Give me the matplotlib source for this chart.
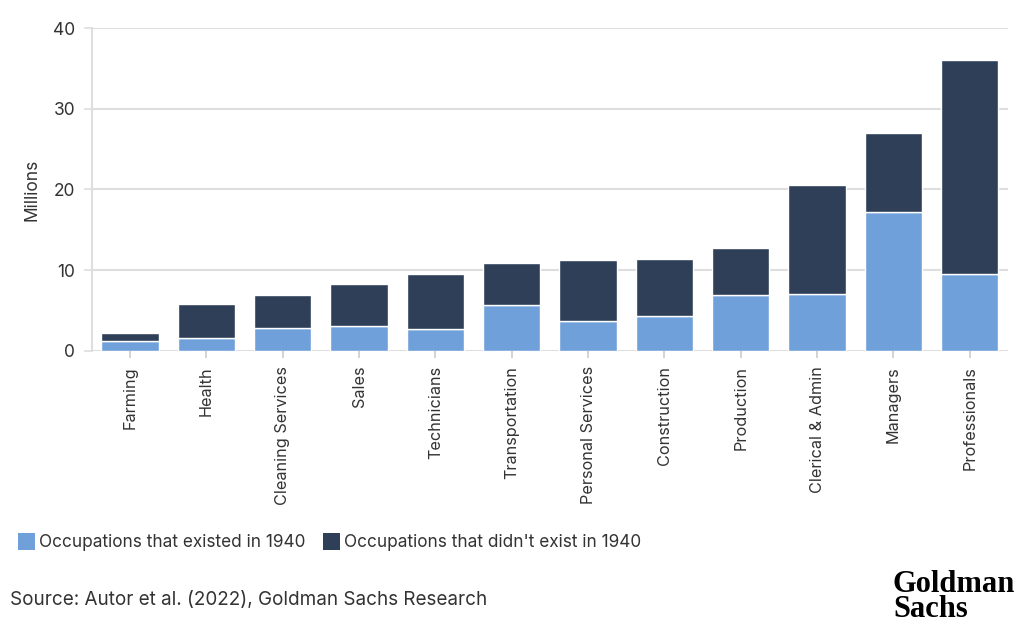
import matplotlib.pyplot as plt
from matplotlib.patches import Patch

categories = ['Farming', 'Health', 'Cleaning Services', 'Sales', 'Technicians',
              'Transportation', 'Personal Services', 'Construction', 'Production',
              'Clerical & Admin', 'Managers', 'Professionals']
existed = [1.2, 1.6, 2.85, 3.05, 2.7, 5.7, 3.65, 4.25, 6.9, 7.0, 17.25, 9.5]
total = [2.2, 5.75, 6.95, 8.25, 9.5, 10.85, 11.2, 11.4, 12.75, 20.55, 27.0, 36.0]
new_jobs = [t - e for t, e in zip(total, existed)]

light = '#70a0da'
dark = '#2e3f57'
grid_c = '#dedede'
text_c = '#333333'

plt.rcParams['font.family'] = ['Inter', 'DejaVu Sans']

fig = plt.figure(figsize=(10.24, 6.35), dpi=100)
ax = fig.add_axes([0.0898, 0.4477, 0.8945, 0.508])

x = list(range(len(categories)))
ax.bar(x, existed, width=0.75, color=light, edgecolor='white', linewidth=1, zorder=3)
ax.bar(x, new_jobs, width=0.75, bottom=existed, color=dark, edgecolor='white',
       linewidth=1, zorder=3)

ax.set_xlim(-0.5, len(categories) - 0.5)
ax.set_ylim(0, 40)
ax.set_yticks([0, 10, 20, 30, 40])
ax.yaxis.grid(True, color=grid_c, linewidth=1.5, zorder=0)
ax.set_axisbelow(True)
for s in ['top', 'right', 'bottom']:
    ax.spines[s].set_visible(False)
ax.spines['left'].set_color(grid_c)
ax.spines['left'].set_linewidth(1.5)

ax.set_xticks(x)
ax.set_xticklabels(categories, rotation=90, fontsize=11.7, color=text_c)
ax.tick_params(axis='x', length=5, width=1.2, color='#cccccc', pad=6)
ax.tick_params(axis='y', length=6, width=1.2, color=grid_c, labelsize=12.5,
               labelcolor=text_c, pad=6)
ax.set_ylabel('Millions', fontsize=12.5, color=text_c, labelpad=9)

handles = [Patch(facecolor=light, label='Occupations that existed in 1940'),
           Patch(facecolor=dark, label="Occupations that didn't exist in 1940")]
fig.legend(handles=handles, loc='center left', bbox_to_anchor=(0.002, 0.146),
           ncol=2, frameon=False, fontsize=12.4, handlelength=1.0, handleheight=1.1,
           handletextpad=0.25, columnspacing=1.0, labelcolor=text_c)

fig.text(0.01, 0.055, 'Source: Autor et al. (2022), Goldman Sachs Research',
         fontsize=13.6, color=text_c, va='center', ha='left')

fig.text(0.872, 0.06, 'Goldman\nSachs', fontsize=22, fontweight='bold',
         family='Liberation Serif', color='black', ha='left', va='center',
         multialignment='left', linespacing=0.8)

fig.savefig('out.png', dpi=100)
